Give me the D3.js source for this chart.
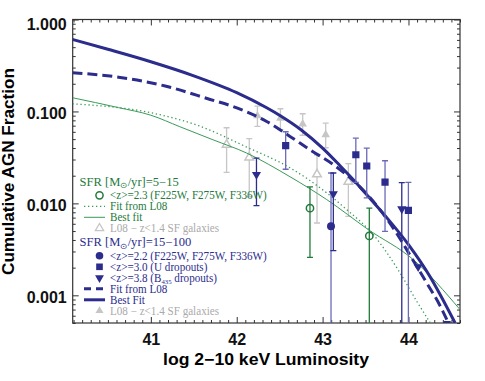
<!DOCTYPE html>
<html>
<head>
<meta charset="utf-8">
<script src="https://cdn.jsdelivr.net/npm/d3@7"></script>
<style>
  body { margin: 0; background: #fff; }
  svg { display: block; }
  .tick text { font-family: "Liberation Sans", Arial, sans-serif; font-weight: bold; font-size: 16px; fill: #111; }
  .tick line { stroke: #333; stroke-width: 1; }
  .legend text { font-family: "Liberation Serif", serif; font-size: 11.5px; }
</style>
</head>
<body>
<div id="chart"></div>
<script>
// axis ticks
var xMajor = [41, 42, 43, 44];
var yMajor = [0.001, 0.01, 0.1, 1];
var yLabels = ["0.001", "0.010", "0.100", "1.000"];

// curves, [log Lx, cumulative fraction]
var bestFitHigh = [[40.087, 0.607], [40.5, 0.474], [41.0, 0.347], [41.5, 0.244], [42.0, 0.160],
  [42.349, 0.1097], [42.503, 0.0905], [42.748, 0.0633], [43.0, 0.0399], [43.203, 0.0257], [43.358, 0.0181],
  [43.514, 0.01245], [43.747, 0.0070], [44.0, 0.00356], [44.25, 0.0016], [44.368, 0.00102], [44.543, 0.0005]];
var fitL08High = [[40.087, 0.264], [40.624, 0.236], [41.167, 0.189], [41.691, 0.135], [41.959, 0.113],
  [42.349, 0.0778], [42.62, 0.0535], [42.853, 0.0383], [43.125, 0.0264], [43.358, 0.01766], [43.747, 0.00683],
  [44.097, 0.00206], [44.213, 0.00136], [44.368, 0.00077], [44.465, 0.0005]];
var bestFitLow = [[40.087, 0.141], [40.624, 0.110], [41.0, 0.091], [41.338, 0.0682], [41.723, 0.0492],
  [42.115, 0.0353], [42.62, 0.0195], [43.048, 0.011], [43.533, 0.00518], [44.057, 0.00244], [44.60, 0.0007]];
var fitL08Low = [[40.087, 0.121], [41.0, 0.0968], [41.556, 0.070], [42.115, 0.041], [42.62, 0.0244],
  [43.048, 0.013], [43.281, 0.00855], [43.591, 0.00457], [43.902, 0.00175], [44.097, 0.00086], [44.252, 0.000505]];

// points, [log Lx, fraction, lower, upper]
var l08Low = [[41.882, 0.0435, 0.0217, 0.0665], [42.146, 0.0316, 0.0118, 0.0505],
  [42.935, 0.0207, 0.00612, 0.0338], [43.30, 0.0172, 0.00723, 0.0270]];
var l08High = [[42.241, 0.0898, 0.0687, 0.114], [42.509, 0.0843, 0.0633, 0.107],
  [42.768, 0.0731, 0.0551, 0.0944], [43.036, 0.0558, 0.0403, 0.0745]];
var z23 = [[42.853, 0.00887, 0.00259, 0.0151], [43.544, 0.00443, 0.0001, 0.0089]];
var z22 = [[43.098, 0.00565, 0.0001, 0.0214]];
var z30 = [[42.57, 0.0424, 0.0235, 0.0601], [43.387, 0.0338, 0.0169, 0.0512], [43.514, 0.0255, 0.0115, 0.040],
  [43.727, 0.0170, 0.00497, 0.0291], [43.999, 0.00839, 0.0001, 0.0169], [44.45, 0.00048, 0.00048, 0.00048]];
var z38 = [[42.23, 0.0206, 0.00944, 0.031], [43.125, 0.0127, 0.00306, 0.0214], [43.922, 0.00869, 0.0001, 0.0168],
  [44.113, 0.00204, 0.00204, 0.00204]];

var green = "#237a3c", greenLine = "#3a9a58", blue = "#2b2c8c", blueBar = "#6a6ab8", grey = "#c6c6c6";

var width = 485, height = 381;
var svg = d3.select("#chart").append("svg").attr("width", width).attr("height", height);

var x = d3.scaleLinear().domain([40.09, 44.6]).range([72.7, 460]);
var y = d3.scaleLog().domain([0.0005, 1]).range([323, 19.5]);
var x0 = x.range()[0], x1 = x.range()[1], y0 = y.range()[0], y1 = y.range()[1];

svg.append("clipPath").attr("id", "plot").append("rect")
  .attr("x", x0).attr("y", y1).attr("width", x1 - x0).attr("height", y0 - y1);

// ticks on all four sides, pointing inward
var xMinor = d3.range(401, 447).map(function(d) { return d / 10; }).filter(function(d) { return d % 1 !== 0; });
var yMinor = [];
[-4, -3, -2, -1].forEach(function(k) {
  for (var m = 2; m <= 9; m++) {
    var v = m * Math.pow(10, k);
    if (v >= 0.0005 && v < 1) yMinor.push(v);
  }
});

function drawAxis(axis, tx, ty) {
  var g = svg.append("g").attr("transform", "translate(" + tx + "," + ty + ")").call(axis);
  g.select(".domain").remove();
  return g;
}
drawAxis(d3.axisBottom(x).tickValues(xMinor).tickSize(-3).tickFormat(""), 0, y0);
drawAxis(d3.axisTop(x).tickValues(xMinor).tickSize(-3).tickFormat(""), 0, y1);
drawAxis(d3.axisTop(x).tickValues(xMajor).tickSize(-6).tickFormat(""), 0, y1);
drawAxis(d3.axisBottom(x).tickValues(xMajor).tickSize(-6).tickPadding(11).tickFormat(d3.format("d")), 0, y0);

drawAxis(d3.axisLeft(y).tickValues(yMinor).tickSize(-3).tickFormat(""), x0, 0);
drawAxis(d3.axisRight(y).tickValues(yMinor).tickSize(-3).tickFormat(""), x1, 0);
drawAxis(d3.axisRight(y).tickValues(yMajor).tickSize(-6).tickFormat(""), x1, 0);
var yAx = drawAxis(d3.axisLeft(y).tickValues(yMajor).tickSize(-6).tickPadding(6)
  .tickFormat(function(d, i) { return yLabels[i]; }), x0, 0);
yAx.selectAll(".tick text").attr("dy", function(d) { return d === 1 ? "0.65em" : "0.42em"; });

svg.append("rect").attr("x", x0).attr("y", y1).attr("width", x1 - x0).attr("height", y0 - y1)
  .attr("fill", "none").attr("stroke", "#333").attr("stroke-width", 1.2);

svg.append("text").attr("x", 266).attr("y", 365).attr("text-anchor", "middle")
  .attr("textLength", 206).attr("lengthAdjust", "spacingAndGlyphs")
  .style("font-family", "Liberation Sans, Arial, sans-serif").style("font-weight", "bold").style("font-size", "16px")
  .text("log 2\u221210 keV Luminosity");
svg.append("text").attr("transform", "translate(13.5,171.5) rotate(-90)").attr("text-anchor", "middle")
  .attr("textLength", 207).attr("lengthAdjust", "spacingAndGlyphs")
  .style("font-family", "Liberation Sans, Arial, sans-serif").style("font-weight", "bold").style("font-size", "16px")
  .text("Cumulative AGN Fraction");

var plot = svg.append("g").attr("clip-path", "url(#plot)");

var line = d3.line().x(function(d) { return x(d[0]); }).y(function(d) { return y(d[1]); }).curve(d3.curveMonotoneX);

function errorBars(data, color, width) {
  var g = plot.append("g").attr("stroke", color).attr("stroke-width", width || 1.3).attr("fill", "none");
  data.forEach(function(d) {
    if (d[2] === d[3]) return;
    var cx = x(d[0]);
    g.append("line").attr("x1", cx).attr("x2", cx).attr("y1", y(d[2])).attr("y2", y(d[3]));
    [d[2], d[3]].forEach(function(v) {
      g.append("line").attr("x1", cx - 3).attr("x2", cx + 3).attr("y1", y(v)).attr("y2", y(v));
    });
  });
}

function markers(data, type, size, fill, stroke, rotate) {
  plot.append("g").selectAll("path").data(data).enter().append("path")
    .attr("d", d3.symbol().type(type).size(size))
    .attr("transform", function(d) {
      return "translate(" + x(d[0]) + "," + y(d[1]) + ")" + (rotate ? " rotate(180)" : "");
    })
    .attr("fill", fill).attr("stroke", stroke).attr("stroke-width", 1.5);
}

// grey comparison samples
errorBars(l08Low, grey);
errorBars(l08High, grey);
markers(l08Low, d3.symbolTriangle, 32, "#fff", grey);
markers(l08High, d3.symbolTriangle, 32, grey, "none");

// fits
plot.append("path").datum(fitL08Low).attr("d", line).attr("fill", "none")
  .attr("stroke", greenLine).attr("stroke-width", 1.3).attr("stroke-dasharray", "1.3,2.7");
plot.append("path").datum(bestFitLow).attr("d", line).attr("fill", "none")
  .attr("stroke", greenLine).attr("stroke-width", 1);
plot.append("path").datum(fitL08High).attr("d", line).attr("fill", "none")
  .attr("stroke", blue).attr("stroke-width", 3).attr("stroke-dasharray", "10,5");
plot.append("path").datum(bestFitHigh).attr("d", line).attr("fill", "none")
  .attr("stroke", blue).attr("stroke-width", 3);

// high-z samples
errorBars(z23, green);
errorBars(z22, blueBar);
errorBars(z30, blueBar);
errorBars(z38, blue);
markers(z23, d3.symbolCircle, 42, "none", green);
markers(z22, d3.symbolCircle, 50, blue, "none");
markers(z30, d3.symbolSquare, 52, blue, "none");
markers(z38, d3.symbolTriangle, 36, blue, "none", true);

// legend
var legendGroups = [
  { title: "SFR [M", sub: "\u2299", rest: "/yr]=5\u221215", color: green, y: 182,
    items: [
      { kind: "openCircle", label: "<z>=2.3 (F225W, F275W, F336W)", color: green },
      { kind: "dotted", label: "Fit from L08", color: green },
      { kind: "thin", label: "Best fit", color: green },
      { kind: "openTri", label: "L08 \u2212 z<1.4 SF galaxies", color: "#aaa" }
    ] },
  { title: "SFR [M", sub: "\u2299", rest: "/yr]=15\u2212100", color: blue, y: 242.5,
    items: [
      { kind: "circle", label: "<z>=2.2 (F225W, F275W, F336W)", color: blue },
      { kind: "square", label: "<z>=3.0 (U dropouts)", color: blue },
      { kind: "tri", label: "<z>=3.8 (B", sub: "435", rest: " dropouts)", color: blue },
      { kind: "dashed", label: "Fit from L08", color: blue },
      { kind: "thick", label: "Best Fit", color: blue },
      { kind: "greyTri", label: "L08 \u2212 z<1.4 SF galaxies", color: "#aaa" }
    ] }
];

// the original legend font runs wider than the installed serif: stretch lines horizontally,
// calibrated on the widths of the first title (100px) and first entry (157px) in the original
function widen(sel, x, k) {
  sel.attr("transform", "translate(" + x + ",0) scale(" + k + ",1) translate(" + (-x) + ",0)");
}

var leg = svg.append("g").attr("class", "legend");
var titles = [], entries = [];
legendGroups.forEach(function(grp) {
  var t = leg.append("text").attr("x", 79.5).attr("y", grp.y + 4).attr("fill", grp.color);
  t.append("tspan").text(grp.title);
  t.append("tspan").attr("dy", 2.5).style("font-size", "8px").text(grp.sub);
  t.append("tspan").attr("dy", -2.5).text(grp.rest);
  titles.push(t);
  grp.items.forEach(function(it, i) {
    var yy = grp.y + 13.3 + i * 11;
    var cx = 99.5;
    var s = leg.append("g");
    if (it.kind === "openCircle") {
      s.append("circle").attr("cx", cx).attr("cy", yy).attr("r", 3.6).attr("fill", "none").attr("stroke", green).attr("stroke-width", 1.5);
    } else if (it.kind === "circle") {
      s.append("circle").attr("cx", cx).attr("cy", yy).attr("r", 3.8).attr("fill", blue);
    } else if (it.kind === "square") {
      s.append("path").attr("d", d3.symbol().type(d3.symbolSquare).size(44)).attr("transform", "translate(" + cx + "," + yy + ")").attr("fill", blue);
    } else if (it.kind === "tri") {
      s.append("path").attr("d", d3.symbol().type(d3.symbolTriangle).size(34)).attr("transform", "translate(" + cx + "," + yy + ") rotate(180)").attr("fill", blue);
    } else if (it.kind === "openTri") {
      s.append("path").attr("d", d3.symbol().type(d3.symbolTriangle).size(30)).attr("transform", "translate(" + cx + "," + yy + ")").attr("fill", "none").attr("stroke", grey).attr("stroke-width", 1.3);
    } else if (it.kind === "greyTri") {
      s.append("path").attr("d", d3.symbol().type(d3.symbolTriangle).size(28)).attr("transform", "translate(" + cx + "," + yy + ")").attr("fill", grey);
    } else {
      var ln = s.append("line").attr("x1", 84).attr("x2", 105).attr("y1", yy).attr("y2", yy).attr("stroke", it.color);
      if (it.kind === "dotted") ln.attr("stroke", greenLine).attr("stroke-width", 1.2).attr("stroke-dasharray", "1.3,2.7");
      if (it.kind === "thin") ln.attr("stroke", greenLine).attr("stroke-width", 1);
      if (it.kind === "dashed") ln.attr("stroke-width", 3).attr("stroke-dasharray", "7,5");
      if (it.kind === "thick") ln.attr("stroke-width", 3);
    }
    var tx = leg.append("text").attr("x", 110).attr("y", yy + 4).attr("fill", it.color);
    tx.append("tspan").text(it.label);
    if (it.sub) {
      tx.append("tspan").attr("dy", 2.5).style("font-size", "7px").text(it.sub);
      tx.append("tspan").attr("dy", -2.5).text(it.rest);
    }
    entries.push(tx);
  });
});
var kTitle = 100 / titles[0].node().getBBox().width;
var kEntry = 157 / entries[0].node().getBBox().width;
titles.forEach(function(t) { widen(t, 79.5, kTitle); });
entries.forEach(function(t) { widen(t, 110, kEntry); });
</script>
</body>
</html>
